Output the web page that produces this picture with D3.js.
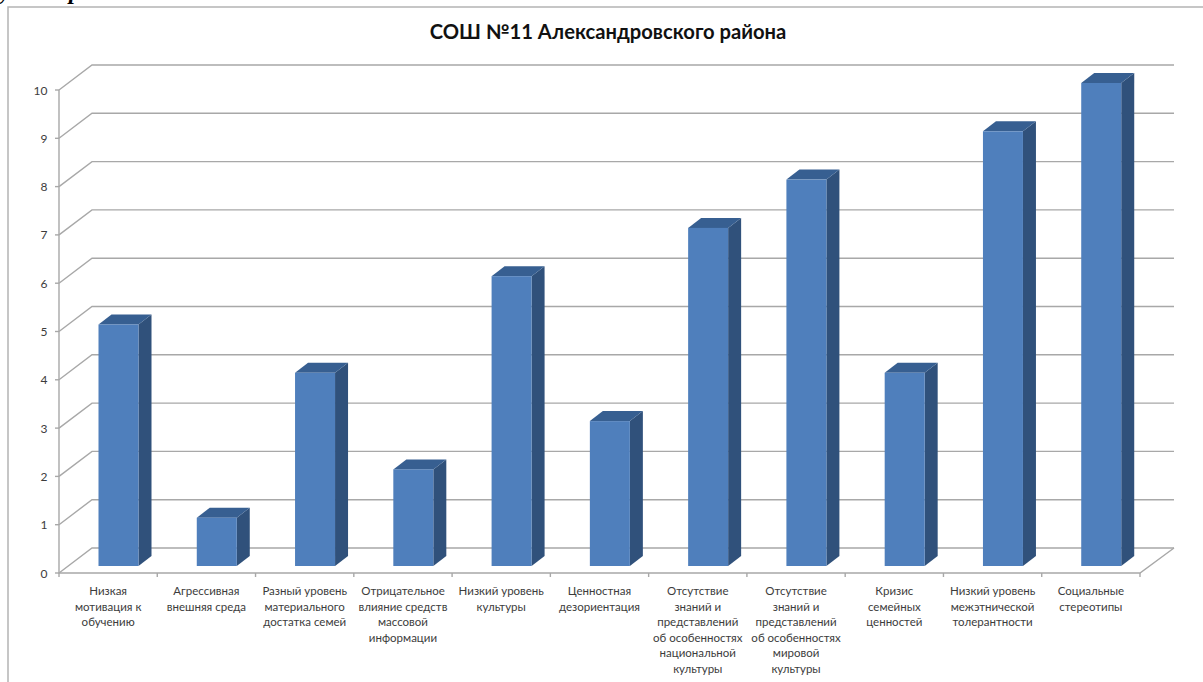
<!DOCTYPE html>
<html><head><meta charset="utf-8">
<style>html,body{margin:0;padding:0;background:#fff}svg{display:block}</style>
<script src="https://cdn.jsdelivr.net/npm/d3@7/dist/d3.min.js"></script>
</head><body><svg id="c" width="1203" height="682"></svg>
<script>
const titleText = "СОШ №11 Александровского района";
const categories = [
  ["Низкая","мотивация к","обучению"],
  ["Агрессивная","внешняя среда"],
  ["Разный уровень","материального","достатка семей"],
  ["Отрицательное","влияние средств","массовой","информации"],
  ["Низкий уровень","культуры"],
  ["Ценностная","дезориентация"],
  ["Отсутствие","знаний и","представлений","об особенностях","национальной","культуры"],
  ["Отсутствие","знаний и","представлений","об особенностях","мировой","культуры"],
  ["Кризис","семейных","ценностей"],
  ["Низкий уровень","межэтнической","толерантности"],
  ["Социальные","стереотипы"]
];
const values = [5,1,4,2,6,3,7,8,4,9,10];
const yTicks = [0,1,2,3,4,5,6,7,8,9,10];
const clippedLetters = [["у",0],["д",17],["р",69]];

const svg = d3.select("#c");
const font = "Lato, Carlito, 'Open Sans', sans-serif";
const grid = "#a8a8a8";
const x = d3.scaleBand().domain(d3.range(categories.length)).range([59,1140]);
const y = d3.scaleLinear().domain([0,10]).range([573,90]);
const wallDx = 33, wallDy = -25;
const barW = 40, barLeft = 39.5, barLift = 7, depthX = 13, depthY = -10;

// clipped text of the page above the chart
svg.selectAll("text.clip").data(clippedLetters).join("text").attr("class","clip")
  .attr("x",d=>d[1]).attr("y",-1)
  .attr("font-family","'Liberation Serif', serif").attr("font-style","italic").attr("font-weight","bold")
  .attr("font-size",24).attr("fill","#000").text(d=>d[0]);

// outer border, runs off the right and bottom of the picture
svg.append("path").attr("d","M8,682V7H1203").attr("fill","none").attr("stroke","#b4b4b4").attr("stroke-width",1.5);

svg.append("text").attr("x",608).attr("y",38.5).attr("text-anchor","middle")
  .attr("font-family",font).attr("font-weight","bold").attr("font-size",20.2).attr("fill","#111").text(titleText);

// gridlines on the back wall and left wall
const gl = svg.append("g").attr("fill","none").attr("stroke",grid).attr("stroke-width",1.4);
yTicks.forEach(t=>{
  const yy=y(t);
  gl.append("path").attr("d",`M${59},${yy}L${59+wallDx},${yy+wallDy}H${1140+wallDx+1}`);
  gl.append("path").attr("d",`M55,${yy}H59`);
});
gl.append("path").attr("d",`M59,${y(10)}V${y(0)}H1140L${1140+wallDx+1},${y(0)+wallDy}`);
d3.range(categories.length+1).forEach(i=>{
  const xx = i<categories.length ? x(i) : x.range()[1];
  gl.append("path").attr("d",`M${xx},${y(0)}v4`);
});

// y tick labels
svg.append("g").selectAll("text").data(yTicks).join("text")
  .attr("x",47.5).attr("y",d=>y(d)+4.5).attr("text-anchor","end")
  .attr("font-family",font).attr("font-size",12).attr("fill","#3c3c3c").text(d=>d);

// bars
const bars = svg.append("g").selectAll("g").data(values).join("g");
const L = (d,i)=>x(i)+barLeft, B = y(0)-barLift;
bars.append("path").attr("fill","#30517b").attr("d",(d,i)=>{
  const l=L(d,i)+barW, t=y(d)-barLift;
  return `M${l},${t}l${depthX},${depthY}V${B+depthY}l${-depthX},${-depthY}Z`;
});
bars.append("path").attr("fill","#375f91").attr("d",(d,i)=>{
  const l=L(d,i), t=y(d)-barLift;
  return `M${l},${t}l${depthX},${depthY}h${barW}l${-depthX},${-depthY}Z`;
});
bars.append("rect").attr("fill","#4f7fbc")
  .attr("x",(d,i)=>L(d,i)).attr("y",d=>y(d)-barLift).attr("width",barW).attr("height",d=>B-(y(d)-barLift));

// category labels
const lab = svg.append("g").selectAll("text").data(categories).join("text")
  .attr("text-anchor","middle").attr("font-family",font).attr("font-size",11.5).attr("fill","#3c3c3c");
lab.each(function(lines,i){
  d3.select(this).selectAll("tspan").data(lines).join("tspan")
    .attr("x",x(i)+x.bandwidth()/2).attr("y",(d,j)=>595+j*15.6).text(d=>d);
});
</script></body></html>
